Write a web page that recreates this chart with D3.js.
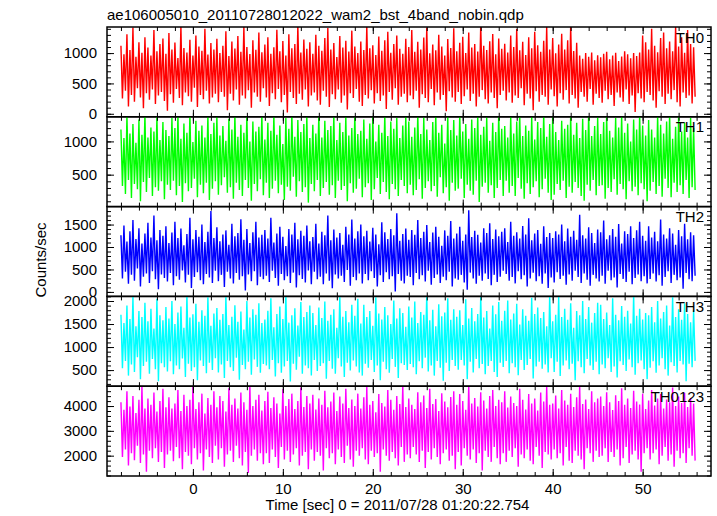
<!DOCTYPE html>
<html><head><meta charset="utf-8">
<script src="https://cdn.jsdelivr.net/npm/d3@7"></script>
<style>body{margin:0;background:#fff}</style>
</head><body><svg id="c" width="717" height="516"></svg>
<script>
const titleText = "ae106005010_20110728012022_wam2_bst_4band_nobin.qdp";
const xLabelText = "Time [sec] 0 = 2011/07/28 01:20:22.754";
const yLabelText = "Counts/sec";
const bandNames = ["TH0","TH1","TH2","TH3","TH0123"];
// each interval (1/3 s) holds the highest and lowest rate
const tStart = -8, binWidth = 1/3;
const xDomain = [-9.55, 57.6];
const xTicks = [0,10,20,30,40,50];
const yDomains = [[-50,1430],[20,1370],[-100,1900],[150,2100],[1180,4800]];
const yTicks = [[0,500,1000],[500,1000],[0,500,1000,1500],[500,1000,1500,2000],[2000,3000,4000]];
const yMinorStep = [100,100,100,100,200];

const th0Hi = [
1120,980,1310,1050,1420,940,1180,1005,1260,1090,960,1380,1030,1150,1240,990,
1330,1060,1175,920,1450,1085,1010,1220,960,1290,1110,1040,1400,975,1165,1060,
1235,1000,1120,1360,950,1190,1075,1280,1020,1430,1100,985,1210,1055,1340,1015,
1140,1260,990,1095,1385,1030,1200,960,1310,1080,1150,1455,1010,1225,1070,1180,
990,1300,1120,1040,1250,1415,1060,1165,935,1280,1090,1205,1025,1370,1110,1000,
1190,1050,1440,1080,1130,970,1275,1040,1210,1350,1005,1150,1290,1070,990,1235,
1100,1380,1020,1185,1060,1255,1420,995,1140,1045,1300,1110,960,1230,1085,1410,
1030,1170,1270,1000,1340,1090,1150,1025,1460,1120,1050,1195,1315,980,1240,1070,
1155,1010,1290,1100,1395,1045,1185,970,1260,1080,1350,1130,1020,1205,1430,1060,
1250,995,1140,1320,1060,1210,1450,1035,1170,960,905,1000,940,1010,880,965,
930,990,1020,900,960,1005,870,945,1030,980,915,1000,950,1010,1290,1180,
1060,1400,1120,1015,1250,1340,1080,1190,1030,1445,1110,1260,1005,1380,1150,1095];
const th0Lo = [
250,380,120,310,200,420,270,90,340,230,400,160,300,360,210,50,
320,180,410,260,140,350,290,200,430,110,310,240,380,170,270,330,
190,360,280,60,330,220,400,150,300,250,390,100,350,280,200,420,
270,130,340,240,410,190,310,20,360,260,160,330,230,400,120,300,
350,220,150,380,280,110,320,240,400,180,300,70,340,260,410,200,
130,310,250,390,170,340,210,300,80,360,230,420,150,280,330,190,
300,240,380,100,320,260,190,410,140,350,230,310,40,370,270,200,
360,160,290,400,210,330,120,280,390,240,170,350,260,90,310,380,
220,350,180,300,260,420,140,330,250,60,370,200,310,280,150,400,
290,120,340,230,390,170,310,250,100,360,280,200,410,150,330,260,
180,380,240,310,130,350,270,200,400,160,300,30,340,250,190,360,
310,220,100,370,280,160,330,240,390,190,120,350,260,300,170,280];

const th1Hi = [
1180,1050,1390,1120,1260,980,1330,1100,1410,1060,1210,1150,1380,1020,1290,1170,
1080,1350,1200,1400,1040,1270,1130,1420,990,1310,1160,1240,1060,1390,1110,1280,
1370,1090,1230,1010,1340,1180,1405,1070,1250,1130,1380,1000,1300,1150,1220,1400,
1030,1280,1160,1390,1100,1240,960,1350,1190,1410,1070,1320,1140,1260,1380,1050,
1250,1120,1400,1060,1310,1170,1230,1390,1020,1280,1140,1370,1090,1200,1420,1110,
1160,1330,1040,1270,1380,1000,1250,1130,1400,1080,1300,1190,1350,1050,1240,1390,
1300,1070,1210,1410,1110,1360,1180,1020,1290,1400,1130,1250,970,1380,1170,1320,
1090,1400,1150,1260,1040,1330,1200,1390,1100,1220,1360,1010,1280,1140,1410,1190,
1230,1060,1380,1120,1300,1410,1080,1240,1160,1370,1030,1290,1200,1400,1070,1260,
1370,1140,1020,1310,1190,1250,1390,1100,1280,1050,1340,1170,1420,1080,1230,1360,
1110,1290,1400,1160,1060,1350,1210,1380,1130,1270,1000,1330,1180,1400,1240,1090,
1320,1180,1060,1390,1250,1120,1300,1410,1040,1220,1370,1150,1280,1060,1350,1200];
const th1Lo = [
330,210,420,150,360,280,100,390,240,450,180,310,260,400,130,350,
270,410,190,330,90,370,250,300,440,160,350,220,380,120,290,400,
200,340,460,230,310,140,380,270,180,420,300,110,360,250,430,190,
380,150,290,410,220,350,120,320,260,470,170,400,240,310,80,360,
250,420,180,300,390,200,340,150,410,270,330,100,370,230,290,440,
160,310,370,120,280,450,210,390,240,130,360,280,180,420,330,220,
350,190,270,430,140,300,400,250,330,170,460,220,310,110,380,260,
290,440,150,350,260,200,410,90,320,380,230,340,150,300,420,180,
410,230,330,180,450,290,140,370,210,310,400,160,280,440,230,120,
200,360,270,410,150,320,230,390,300,180,110,350,260,420,190,330,
340,140,300,240,430,200,360,280,130,400,250,320,190,370,280,100,
260,390,210,330,170,440,300,160,380,240,340,210,420,150,310,270];

const th2Hi = [
1260,1480,1120,1350,1600,1180,1420,1080,1300,1540,1210,1700,1150,1380,1250,1460,
1090,1320,1560,1200,1410,1040,1290,1650,1170,1380,1230,1500,1110,1340,1800,1200,
1440,1130,1280,1370,1050,1520,1240,1310,1620,1160,1400,1090,1330,1560,1210,1270,
1380,1190,1650,1100,1300,1450,1230,1020,1400,1280,1540,1170,1360,1250,1480,1130,
1220,1520,1080,1340,1260,1700,1150,1390,1210,1310,1050,1450,1280,1610,1190,1350,
1500,1240,1360,1120,1430,1280,1060,1550,1330,1180,1400,1260,1750,1140,1290,1410,
1160,1380,1270,1600,1200,1340,1490,1110,1320,1450,1230,1030,1370,1250,1580,1190,
1300,1450,1140,1280,1820,1220,1360,1270,1100,1420,1310,1530,1180,1390,1240,1340,
1420,1110,1560,1250,1330,1190,1470,1280,1640,1150,1300,1380,1070,1460,1220,1310,
1200,1350,1280,1500,1130,1410,1230,1360,1160,1720,1260,1190,1440,1310,1090,1390,
1330,1590,1170,1260,1400,1230,1510,1080,1350,1290,1460,1200,1370,1560,1250,1140,
1460,1210,1340,1130,1610,1280,1190,1420,1300,1050,1380,1240,1520,1170,1330,1260];
const th2Lo = [
300,450,180,380,250,520,120,340,410,200,460,280,60,390,310,230,
420,150,350,270,480,210,380,90,330,440,260,170,400,320,200,470,
240,380,110,450,300,190,420,270,350,30,390,240,460,150,340,280,
360,220,470,310,140,400,260,350,200,430,100,370,290,210,480,170,
450,280,340,170,410,250,80,390,300,360,220,490,140,330,260,410,
190,400,260,460,310,120,370,220,440,280,350,10,400,250,190,360,
330,150,420,280,370,230,470,160,310,390,200,340,260,450,120,300,
270,380,210,50,430,300,180,360,250,410,290,150,380,220,340,470,
400,250,330,190,460,280,370,120,300,430,240,350,180,410,90,320,
210,440,290,360,160,390,250,470,330,200,410,270,140,380,300,230,
360,180,470,260,320,100,400,290,220,450,170,310,390,240,350,190,
290,410,230,370,140,330,460,200,380,260,320,70,420,280,240,360];

const th3Hi = [
1700,1520,1900,1610,2100,1450,1780,1650,1960,1560,1830,1400,2050,1690,1580,1870,
1620,2000,1500,1750,1880,1420,2150,1640,1710,1940,1550,1800,1680,2080,1460,1730,
1850,1590,1720,2120,1480,1660,1910,1550,1770,1380,2000,1640,1820,1700,1950,1520,
1600,1790,2060,1430,1720,1880,1610,2140,1530,1690,1840,1470,1980,1650,1760,1900,
1740,1480,1860,1630,1990,1570,1700,1820,1420,2100,1660,1780,1540,1920,1680,2050,
1510,1920,1650,1780,1460,2080,1730,1600,1870,1690,1500,2010,1620,1840,1740,1440,
1880,1640,1990,1520,1760,1700,2130,1580,1810,1450,1930,1670,1750,2060,1590,1820,
1660,1800,1480,2040,1620,1850,1560,1720,2100,1640,1780,1400,1900,1710,1980,1570,
1790,2010,1600,1730,1940,1490,1820,1680,1570,2070,1720,1860,1630,1760,1450,2120,
1560,1700,2090,1650,1830,1590,1950,1420,1780,1690,2000,1610,1870,1530,1740,1960,
1920,1610,1750,1480,2060,1700,1580,1890,1660,1790,1510,2140,1680,1830,1600,1740,
1690,1870,1540,2000,1620,1760,1900,1470,2080,1650,1820,1590,1950,1720,1540,1800];
const th3Lo = [
540,700,380,620,460,780,300,590,680,420,740,520,260,650,560,470,
690,410,600,520,750,350,640,480,560,280,710,590,430,660,500,760,
450,620,330,700,560,480,770,290,610,520,680,400,730,570,440,630,
600,520,720,360,650,440,580,700,250,640,510,790,420,600,540,380,
720,480,590,650,310,700,530,420,760,580,350,660,490,710,580,450,
380,640,550,720,460,600,280,680,520,440,740,570,330,650,610,500,
630,560,410,690,540,770,470,600,380,700,550,270,660,480,720,590,
510,720,600,300,680,450,740,540,630,410,590,700,460,350,660,570,
700,430,650,560,390,720,500,610,740,320,580,680,530,620,450,760,
460,680,370,600,710,520,640,280,690,560,430,740,600,500,680,410,
620,540,760,460,580,340,690,610,480,730,560,400,650,710,520,300,
550,690,440,600,760,520,380,670,590,450,700,620,260,640,560,700];

const th0123Hi = [
4150,3850,4600,3980,4400,3720,4250,4820,3900,4300,4050,4550,3780,4200,4700,3950,
4350,3900,4100,4650,3800,4450,4000,4250,4800,3880,4150,4500,3700,4320,4050,4600,
3950,4400,4200,3780,4720,4050,4300,3900,4550,4150,3850,4850,4000,4250,4450,3820,
4200,4580,3920,4350,4100,3700,4680,4000,4280,4500,3880,4200,4750,3960,4400,4100,
4450,3860,4300,4050,4620,3950,4180,4550,3800,4380,4100,4700,3920,4260,4000,4500,
3900,4350,4780,4050,4200,3750,4480,4120,3980,4650,4250,3850,4400,4080,4820,3960,
4300,4050,3880,4560,4150,4420,3920,4700,4080,4280,3800,4520,4180,3950,4360,4600,
4050,4480,4200,3850,4850,4100,4320,3980,4560,4220,3900,4400,4650,4000,4250,4150,
4600,3940,4380,4120,4000,4700,4250,3860,4480,4100,4300,3820,4550,4180,4780,4050,
4100,4420,3900,4650,4220,4050,4500,3960,4350,4800,4080,4260,3880,4600,4150,4300,
4380,4000,4560,4150,3840,4430,4200,4720,4050,4300,3920,4620,4180,4060,4500,3880,
4220,4650,4020,4300,4480,3900,4260,4150,4750,4000,4380,4120,4540,3960,4320,4100];
const th0123Lo = [
1950,2250,1600,2100,1820,2400,1700,2050,1350,2200,1900,2300,1750,2150,1500,2050,
2200,1780,2350,1900,1450,2150,2000,1650,2300,1850,2100,1400,2250,1950,1700,2400,
1850,2300,1550,2050,2200,1750,2400,1900,1600,2150,1300,2000,2250,1800,2100,1650,
2100,1700,2250,1950,1500,2350,1850,2200,1750,2050,2300,1600,2000,2150,1450,2250,
1800,2150,2000,1400,2300,1900,2100,1650,2250,1950,1700,2400,1850,1550,2200,2000,
2300,1850,1650,2200,1950,2100,1350,2250,2000,1800,2150,1900,1600,2350,1750,2050,
1900,2350,2050,1750,2200,1500,2150,1850,2300,1950,1650,2100,2250,1800,2000,1450,
2150,1600,2300,2000,1850,2250,1700,2100,1400,2200,1950,1750,2350,1900,1650,2100,
1750,2200,1950,2300,1550,2050,1900,2250,1800,1650,2350,2000,1500,2150,2050,1850,
2250,1900,2100,1600,2350,1800,1700,2200,2000,1850,1450,2300,2100,1750,2200,1950,
2000,2300,1750,2150,1950,2250,1600,1900,2350,1700,2050,2200,1850,1350,2100,2300,
1850,2100,2250,1650,2000,2350,1800,2050,1550,2200,1900,2100,1700,2300,2000,1800];

const seriesHi = [th0Hi, th1Hi, th2Hi, th3Hi, th0123Hi];
const seriesLo = [th0Lo, th1Lo, th2Lo, th3Lo, th0123Lo];
const colors = ["#ff0000","#00ff00","#0000ff","#00ffff","#ff00ff"];

const FONT = "'Liberation Sans', Arial, Helvetica, sans-serif";
const svg = d3.select("#c");
const L = 107, R = 711, T = 27, B = 476;
const ph = (B - T) / seriesHi.length;
const x = d3.scaleLinear().domain(xDomain).range([L, R]);
const xMinor = d3.range(-8, 58, 2);
const MAJ = 7, MIN = 4;

function styleAxis(g, size) {
  g.select(".domain").remove();
  g.selectAll("line").attr("stroke", "#000").attr("stroke-width", 1);
  g.attr("font-family", FONT).attr("font-size", size);
  g.selectAll("text").attr("fill", "#000");
}

seriesHi.forEach((hi, k) => {
  const lo = seriesLo[k];
  const y0 = T + k * ph, y1 = y0 + ph;
  const y = d3.scaleLinear().domain(yDomains[k]).range([y1, y0]);
  const clipId = "clip" + k;
  svg.append("clipPath").attr("id", clipId)
    .append("rect").attr("x", L).attr("y", y0).attr("width", R - L).attr("height", ph);
  const pts = [];
  hi.forEach((h, j) => {
    pts.push([tStart + j * binWidth, h]);
    pts.push([tStart + (j + 0.5) * binWidth, lo[j]]);
  });
  const line = d3.line().x(d => x(d[0])).y(d => y(d[1]));
  svg.append("path").datum(pts)
    .attr("clip-path", `url(#${clipId})`)
    .attr("fill", "none").attr("stroke", colors[k]).attr("stroke-width", 1.4)
    .attr("stroke-linejoin", "bevel")
    .attr("d", line);

  const dom = yDomains[k];
  const ym = d3.range(Math.ceil(dom[0] / yMinorStep[k]) * yMinorStep[k], dom[1], yMinorStep[k]);
  svg.append("g").attr("transform", `translate(${L},0)`)
    .call(d3.axisLeft(y).tickValues(ym).tickSize(-MIN).tickFormat(""))
    .call(g => styleAxis(g, 15));
  svg.append("g").attr("transform", `translate(${L},0)`)
    .call(d3.axisLeft(y).tickValues(yTicks[k]).tickSize(-MAJ).tickPadding(10).tickFormat(d3.format("d")))
    .call(g => styleAxis(g, 15));
  svg.append("g").attr("transform", `translate(${R},0)`)
    .call(d3.axisRight(y).tickValues(ym).tickSize(-MIN).tickFormat(""))
    .call(g => styleAxis(g, 15));
  svg.append("g").attr("transform", `translate(${R},0)`)
    .call(d3.axisRight(y).tickValues(yTicks[k]).tickSize(-MAJ).tickFormat(""))
    .call(g => styleAxis(g, 15));
  svg.append("g").attr("transform", `translate(0,${y0})`)
    .call(d3.axisTop(x).tickValues(xMinor).tickSize(-MIN).tickFormat(""))
    .call(g => styleAxis(g, 15));
  svg.append("g").attr("transform", `translate(0,${y0})`)
    .call(d3.axisTop(x).tickValues(xTicks).tickSize(-MAJ).tickFormat(""))
    .call(g => styleAxis(g, 15));
  svg.append("g").attr("transform", `translate(0,${y1})`)
    .call(d3.axisBottom(x).tickValues(xMinor).tickSize(-MIN).tickFormat(""))
    .call(g => styleAxis(g, 15));
  svg.append("g").attr("transform", `translate(0,${y1})`)
    .call(d3.axisBottom(x).tickValues(xTicks).tickSize(-MAJ).tickPadding(7)
      .tickFormat(k === seriesHi.length - 1 ? d3.format("d") : ""))
    .call(g => styleAxis(g, 15));

  svg.append("rect").attr("x", L).attr("y", y0).attr("width", R - L).attr("height", ph)
    .attr("fill", "none").attr("stroke", "#000").attr("stroke-width", 1.5);

  svg.append("text").attr("x", 704).attr("y", y0 + 15.5)
    .attr("text-anchor", "end").attr("font-family", FONT).attr("font-size", 15)
    .attr("fill", "#000").text(bandNames[k]);
});

svg.append("text").attr("x", L).attr("y", 20)
  .attr("font-family", FONT).attr("font-size", 15).attr("fill", "#000").text(titleText);
svg.append("text").attr("x", 397.5).attr("y", 510).attr("text-anchor", "middle")
  .attr("font-family", FONT).attr("font-size", 15).attr("fill", "#000").text(xLabelText);
svg.append("text").attr("transform", "translate(46,260) rotate(-90)").attr("text-anchor", "middle")
  .attr("font-family", FONT).attr("font-size", 15).attr("fill", "#000").text(yLabelText);
</script>
</body></html>
